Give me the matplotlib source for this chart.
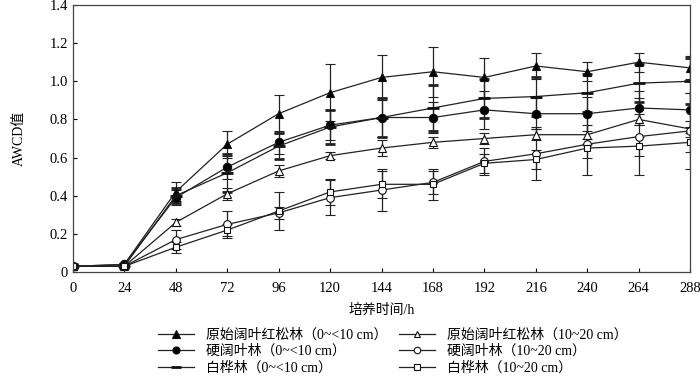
import numpy as np
import matplotlib
matplotlib.use('Agg')
import matplotlib.pyplot as plt
from matplotlib.lines import Line2D

plt.rcParams['font.family'] = ['Liberation Serif', 'Noto Sans CJK SC']

hours = [0, 24, 48, 72, 96, 120, 144, 168, 192, 216, 240, 264, 288]

# 0~<10 cm
a_mean = [0.03, 0.04, 0.42, 0.67, 0.83, 0.94, 1.02, 1.05, 1.02, 1.08, 1.05, 1.10, 1.07]
a_err = [0.01, 0.01, 0.05, 0.07, 0.10, 0.15, 0.12, 0.13, 0.10, 0.07, 0.05, 0.05, 0.06]
b_mean = [0.03, 0.04, 0.39, 0.55, 0.68, 0.77, 0.81, 0.81, 0.85, 0.83, 0.83, 0.86, 0.85]
b_err = [0.01, 0.01, 0.04, 0.06, 0.06, 0.08, 0.10, 0.08, 0.10, 0.08, 0.09, 0.09, 0.09]
c_mean = [0.03, 0.03, 0.40, 0.52, 0.66, 0.76, 0.81, 0.86, 0.91, 0.92, 0.94, 0.99, 1.00]
c_err = [0.01, 0.01, 0.04, 0.10, 0.07, 0.09, 0.10, 0.12, 0.10, 0.10, 0.10, 0.10, 0.12]

# 10~20 cm
d_mean = [0.03, 0.03, 0.26, 0.41, 0.53, 0.61, 0.65, 0.68, 0.70, 0.72, 0.72, 0.80, 0.75]
d_err = [0.01, 0.01, 0.02, 0.03, 0.03, 0.02, 0.04, 0.03, 0.03, 0.03, 0.05, 0.03, 0.04]
e_mean = [0.03, 0.03, 0.17, 0.25, 0.31, 0.39, 0.43, 0.47, 0.58, 0.62, 0.67, 0.71, 0.74]
e_err = [0.01, 0.01, 0.05, 0.07, 0.03, 0.09, 0.11, 0.06, 0.07, 0.14, 0.16, 0.20, 0.20]
f_mean = [0.03, 0.03, 0.13, 0.22, 0.32, 0.42, 0.46, 0.46, 0.57, 0.59, 0.65, 0.66, 0.68]
f_err = [0.01, 0.01, 0.03, 0.03, 0.10, 0.07, 0.07, 0.08, 0.05, 0.05, 0.05, 0.05, 0.05]

labels = ['原始阔叶红松林（0~<10 cm）', '硬阔叶林（0~<10 cm）', '白桦林（0~<10 cm）',
          '原始阔叶红松林（10~20 cm）', '硬阔叶林（10~20 cm）', '白桦林（10~20 cm）']

series = [
    (a_mean, a_err, '^', 'black', 6),
    (b_mean, b_err, 'o', 'black', 6),
    (c_mean, c_err, '_', 'black', 8),
    (d_mean, d_err, '^', 'white', 5.5),
    (e_mean, e_err, 'o', 'white', 5.5),
    (f_mean, f_err, 's', 'white', 5),
]

fig = plt.figure(figsize=(7, 3.8), dpi=100)
ax = fig.add_axes([0.104, 0.284, 0.882, 0.703])

handles = []
for (m, e, mk, fc, ms), lab in zip(series, labels):
    mew = 2.0 if mk == '_' else 0.8
    ax.errorbar(hours, m, yerr=e, color='#222222', lw=0.9, elinewidth=0.9,
                capsize=3.5, capthick=0.9, marker=mk, markersize=ms,
                markerfacecolor=fc, markeredgecolor='#111111',
                markeredgewidth=mew)
    handles.append(Line2D([], [], color='#222222', lw=0.9, marker=mk,
                          markersize=ms * 0.85, markerfacecolor=fc,
                          markeredgecolor='#111111', markeredgewidth=mew))

ax.set_xlim(0, 288)
ax.set_ylim(0, 1.4)
ax.set_xticks(hours)
ax.set_yticks([0, 0.2, 0.4, 0.6, 0.8, 1.0, 1.2, 1.4])
ax.set_yticklabels(['0', '0.2', '0.4', '0.6', '0.8', '1.0', '1.2', '1.4'])
ax.tick_params(direction='in', length=3, labelsize=10.5, width=0.8)
ax.tick_params(axis='x', pad=7)
for s in ax.spines.values():
    s.set_linewidth(0.9)
    s.set_color('#444444')

ax.set_xlabel('培养时间/h', fontsize=10, labelpad=6)
ax.set_ylabel('AWCD值', fontsize=10, labelpad=17)

fig.legend(handles=handles, labels=labels, ncol=2, loc='upper left',
           bbox_to_anchor=(0.225, 0.135), frameon=False, fontsize=10,
           handlelength=2.6, handletextpad=0.9, columnspacing=0.8,
           labelspacing=0.2, borderaxespad=0, borderpad=0)

fig.savefig('out.png', dpi=100)
